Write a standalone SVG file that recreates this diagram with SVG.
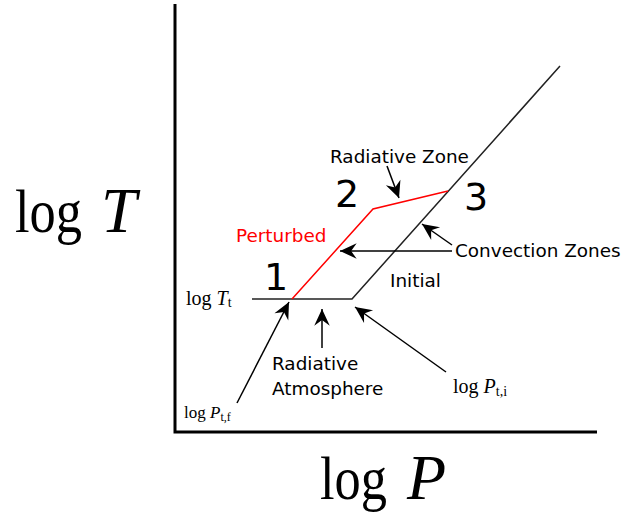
<svg xmlns="http://www.w3.org/2000/svg" width="638" height="518" viewBox="0 0 638 518">
<style>
.lbl{font-family:"DejaVu Sans",sans-serif;font-size:18.4px;fill:#000}
.num{font-family:"DejaVu Sans",sans-serif;font-size:38px;fill:#000}
.math{font-family:"Liberation Serif",serif;fill:#000}
.it{font-style:italic}
.arr{stroke:#000;stroke-width:1.5;fill:none;marker-end:url(#ah)}
</style>
<defs>
<marker id="ah" markerUnits="userSpaceOnUse" markerWidth="20" markerHeight="20" viewBox="-16 -8 18 16" refX="0" refY="0" orient="auto">
<path d="M0,0 L-15,-7 L-10,0 L-15,7 Z" fill="#000"/>
</marker>
</defs>
<rect width="638" height="518" fill="#fff"/>
<g id="axes">
<path d="M175,4 V432 H597" stroke="#000" stroke-width="3" fill="none"/>
</g>
<g id="initial">
<path d="M252,299 H352 L560,66" stroke="#222" stroke-width="1.5" fill="none"/>
<text class="lbl" x="390" y="287">Initial</text>
</g>
<g id="perturbed">
<path d="M292,299 L373,209 L448,191" stroke="#f00" stroke-width="1.5" fill="none"/>
<text class="lbl" x="236" y="242" style="fill:#f00">Perturbed</text>
</g>
<g id="n1"><text class="num" x="264" y="290">1</text></g>
<g id="n2"><text class="num" x="335" y="207">2</text></g>
<g id="n3"><text class="num" x="464" y="210">3</text></g>
<g id="ylabel"><text class="math" x="15" y="232" font-size="62"><tspan textLength="67" lengthAdjust="spacingAndGlyphs">log</tspan><tspan class="it" x="101" font-size="64">T</tspan></text></g>
<g id="xlabel"><text class="math" x="320" y="499" font-size="62"><tspan textLength="67" lengthAdjust="spacingAndGlyphs">log</tspan><tspan class="it" x="407" font-size="64">P</tspan></text></g>
<g id="logTt"><text class="math" x="186" y="305" font-size="20">log <tspan class="it">T</tspan><tspan font-size="14" dy="2">t</tspan></text></g>
<g id="logPtf"><text class="math" x="184" y="418" font-size="17">log <tspan class="it">P</tspan><tspan font-size="12" dy="3">t,f</tspan></text></g>
<g id="logPti"><text class="math" x="453" y="393" font-size="20">log <tspan class="it">P</tspan><tspan font-size="14" dy="3">t,i</tspan></text></g>
<g id="radzone"><text class="lbl" x="330" y="163">Radiative Zone</text></g>
<g id="convzones"><text class="lbl" x="455" y="257">Convection Zones</text></g>
<g id="radatm"><text class="lbl" x="272" y="370">Radiative</text><text class="lbl" x="272" y="395">Atmosphere</text></g>
<g id="connectors">
<path class="arr" d="M387,166 L399,198"/>
<path class="arr" d="M452,251 L340,251"/>
<path class="arr" d="M452,245 L422,224"/>
<path class="arr" d="M237,403 L289,302"/>
<path class="arr" d="M322,348 L322,309"/>
<path class="arr" d="M446,372 L355,307"/>
</g>
</svg>
